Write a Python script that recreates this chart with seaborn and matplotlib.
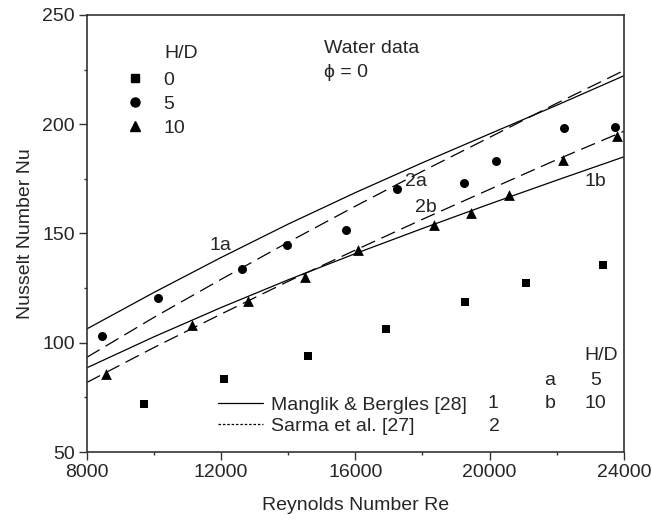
import seaborn as sns
import pandas as pd
import matplotlib.pyplot as plt
from matplotlib.lines import Line2D
from matplotlib.ticker import MultipleLocator

# experimental points, H/D = 0, 5, 10
re_0 = [9710, 12090, 14590, 16920, 19260, 21070, 23390]
nu_0 = [71.9, 83.6, 94.0, 106.1, 118.7, 127.2, 135.6]
re_5 = [8470, 10120, 12630, 13950, 15710, 17230, 19250, 20180, 22220, 23740]
nu_5 = [103.1, 120.3, 133.8, 144.7, 151.5, 170.5, 173.1, 183.1, 198.3, 198.6]
re_10 = [8570, 11150, 12790, 14490, 16070, 18330, 19450, 20590, 22190, 23790]
nu_10 = [85.9, 108.1, 119.3, 130.3, 142.5, 153.9, 159.3, 167.5, 183.7, 194.7]

# correlations
re_line = [8000, 10000, 12000, 14000, 16000, 18000, 20000, 22000, 24000]
nu_1a = [106.3, 123.0, 139.0, 154.3, 168.7, 182.4, 195.6, 208.7, 222.2]
nu_2a = [93.3, 111.6, 129.0, 146.0, 162.5, 178.5, 194.0, 209.6, 224.6]
nu_1b = [88.5, 102.7, 116.1, 128.8, 140.8, 152.3, 163.5, 174.4, 185.1]
nu_2b = [81.8, 97.8, 113.1, 128.1, 142.4, 156.5, 170.2, 183.8, 196.8]

pts = pd.DataFrame({
    "Re": re_0 + re_5 + re_10,
    "Nu": nu_0 + nu_5 + nu_10,
    "H/D": [0] * len(re_0) + [5] * len(re_5) + [10] * len(re_10),
})

sns.set_theme(style="ticks")
plt.rcParams['font.family'] = ['Liberation Sans', 'DejaVu Sans']

fig = plt.figure(figsize=(6.52, 5.24), dpi=100)
ax = fig.add_axes([0.133, 0.1374, 0.824, 0.834])

dash = (12, 5.5)
for nu, style in [(nu_1a, "-"), (nu_2a, dash), (nu_1b, "-"), (nu_2b, dash)]:
    d = pd.DataFrame({"Re": re_line, "Nu": nu})
    sns.lineplot(data=d, x="Re", y="Nu", color="black", lw=0.9, ax=ax)
    if style != "-":
        ax.lines[-1].set_dashes(style)

mk = {0: "s", 5: "o", 10: "^"}
sz = {0: 38, 5: 42, 10: 60}
for hd in [0, 5, 10]:
    sns.scatterplot(data=pts[pts["H/D"] == hd], x="Re", y="Nu", marker=mk[hd],
                    s=sz[hd], color="black", edgecolor="black", linewidth=0,
                    legend=False, ax=ax)

ax.set_xlim(8000, 24000)
ax.set_ylim(50, 250)
ax.xaxis.set_major_locator(MultipleLocator(4000))
ax.xaxis.set_minor_locator(MultipleLocator(2000))
ax.yaxis.set_major_locator(MultipleLocator(50))
ax.yaxis.set_minor_locator(MultipleLocator(25))
ax.tick_params(which="major", direction="out", length=5.5, width=1, labelsize=14,
               color="#333333", pad=3)
ax.tick_params(which="minor", direction="out", length=2.5, width=1, color="#333333")
for s in ax.spines.values():
    s.set_visible(True)
    s.set_linewidth(1.2)
    s.set_color("#333333")
ax.set_xlabel("Reynolds Number Re", fontsize=14, labelpad=12)
ax.set_ylabel("Nusselt Number Nu", fontsize=14, labelpad=6)

# marker legend
h1 = [Line2D([], [], ls="", marker=mk[k], color="black", markersize=m)
      for k, m in [(0, 6.2), (5, 6.5), (10, 7.8)]]
leg1 = ax.legend(h1, ["0", "5", "10"], loc="upper left", bbox_to_anchor=(0.036, 0.912),
                 frameon=False, fontsize=14, handletextpad=0.85, labelspacing=0.33,
                 handlelength=1.2)
ax.add_artist(leg1)
ax.text(10300, 232.5, "H/D", fontsize=14, va="center")

# correlation legend
h2 = [Line2D([], [], color="black", lw=0.9),
      Line2D([], [], color="black", lw=0.9, ls=(0, (2, 1.5)))]
ax.legend(h2, ["Manglik & Bergles [28]", "Sarma et al. [27]"], loc="center left",
          bbox_to_anchor=(0.212, 0.0835), frameon=False, fontsize=14, handlelength=2.3,
          handletextpad=0.4, labelspacing=0.2)

ax.text(20100, 72, "1", fontsize=14, ha="center", va="center")
ax.text(20150, 61.5, "2", fontsize=14, ha="center", va="center")
ax.text(23320, 94, "H/D", fontsize=14, ha="center", va="center")
ax.text(21790, 82.6, "a", fontsize=14, ha="center", va="center")
ax.text(23160, 82.6, "5", fontsize=14, ha="center", va="center")
ax.text(21790, 72, "b", fontsize=14, ha="center", va="center")
ax.text(23160, 72, "10", fontsize=14, ha="center", va="center")

ax.text(15070, 234.8, "Water data", fontsize=14, va="center")
ax.text(15070, 223.7, "\u03d5 = 0", fontsize=14, va="center")

ax.text(11650, 144.3, "1a", fontsize=14, va="center")
ax.text(17480, 173.6, "2a", fontsize=14, va="center")
ax.text(17770, 161.7, "2b", fontsize=14, va="center")
ax.text(22810, 173.6, "1b", fontsize=14, va="center")

plt.savefig("out.png", dpi=100)
